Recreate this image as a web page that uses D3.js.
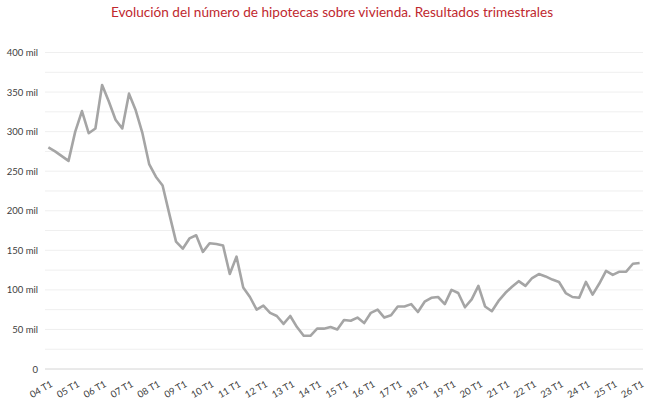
<!DOCTYPE html>
<html><head><meta charset="utf-8">
<script src="https://cdn.jsdelivr.net/npm/d3@7"></script>
<style>
body{margin:0;background:#fff;}
text{font-family:Lato,"Open Sans",sans-serif;}
</style></head>
<body><svg id="c" width="649" height="405"></svg>
<script>
const title = "Evolución del número de hipotecas sobre vivienda. Resultados trimestrales";
const years = ["04","05","06","07","08","09","10","11","12","13","14","15","16","17","18","19","20","21","22","23","24","25","26"];
const values = [
 280,275,269,263,
 300,326,298,304,
 359,338,315,304,
 348,327,298,259,
 243,232,196,161,
 152,165,169,148,
 159,158,156,120,
 142,103,91,75,
 80,71,67,57,
 67,53,42,42,
 51,51,53,50,
 62,61,65,58,
 71,75,65,68,
 79,79,82,72,
 85,90,91,82,
 100,96,78,88,
 105,79,73,86,
 96,104,111,105,
 115,120,117,113,
 110,96,91,90,
 110,94,108,124,
 119,123,123,133,
 134
];
const yTicks = [0,50,100,150,200,250,300,350,400];
const gridTicks = d3.range(0,401,25);

const categories = values.map((v,i)=> years[Math.floor(i/4)] + " T" + (i%4+1));
const data = values.map((v,i)=>({c:categories[i], v}));

const svg = d3.select("#c");
const x = d3.scalePoint().domain(categories).range([45,643]).padding(0.5);
const y = d3.scaleLinear().domain([0,400]).range([369,52.5]);

svg.append("text").attr("x",332).attr("y",17).attr("text-anchor","middle")
  .attr("fill","#C0282E").attr("font-size",13.6).text(title);

svg.append("g").selectAll("line").data(gridTicks.filter(d=>d>0)).join("line")
  .attr("x1",45).attr("x2",643).attr("y1",d=>y(d)).attr("y2",d=>y(d))
  .attr("stroke","#efefef").attr("stroke-width",1);

svg.append("line").attr("x1",45).attr("x2",643).attr("y1",y(0)).attr("y2",y(0))
  .attr("stroke","#d4d4d4").attr("stroke-width",1);

svg.append("g").selectAll("text").data(yTicks).join("text")
  .attr("x",38).attr("y",d=>y(d)+3.5).attr("text-anchor","end")
  .attr("font-size",9.5).attr("fill","#404040")
  .text(d=> d===0 ? "0" : d + " mil");

const xLabels = categories.filter((c,i)=>i%4===0);
svg.append("g").selectAll("text").data(xLabels).join("text")
  .attr("text-anchor","end").attr("font-size",9.5).attr("fill","#404040")
  .attr("transform",d=>`translate(${x(d)+5},${y(0)+17}) rotate(-30)`)
  .text(d=>d);

svg.append("path").datum(data)
  .attr("fill","none").attr("stroke","#A5A5A5").attr("stroke-width",2.6)
  .attr("stroke-linejoin","round")
  .attr("d", d3.line().x(d=>x(d.c)).y(d=>y(d.v)));
</script></body></html>
